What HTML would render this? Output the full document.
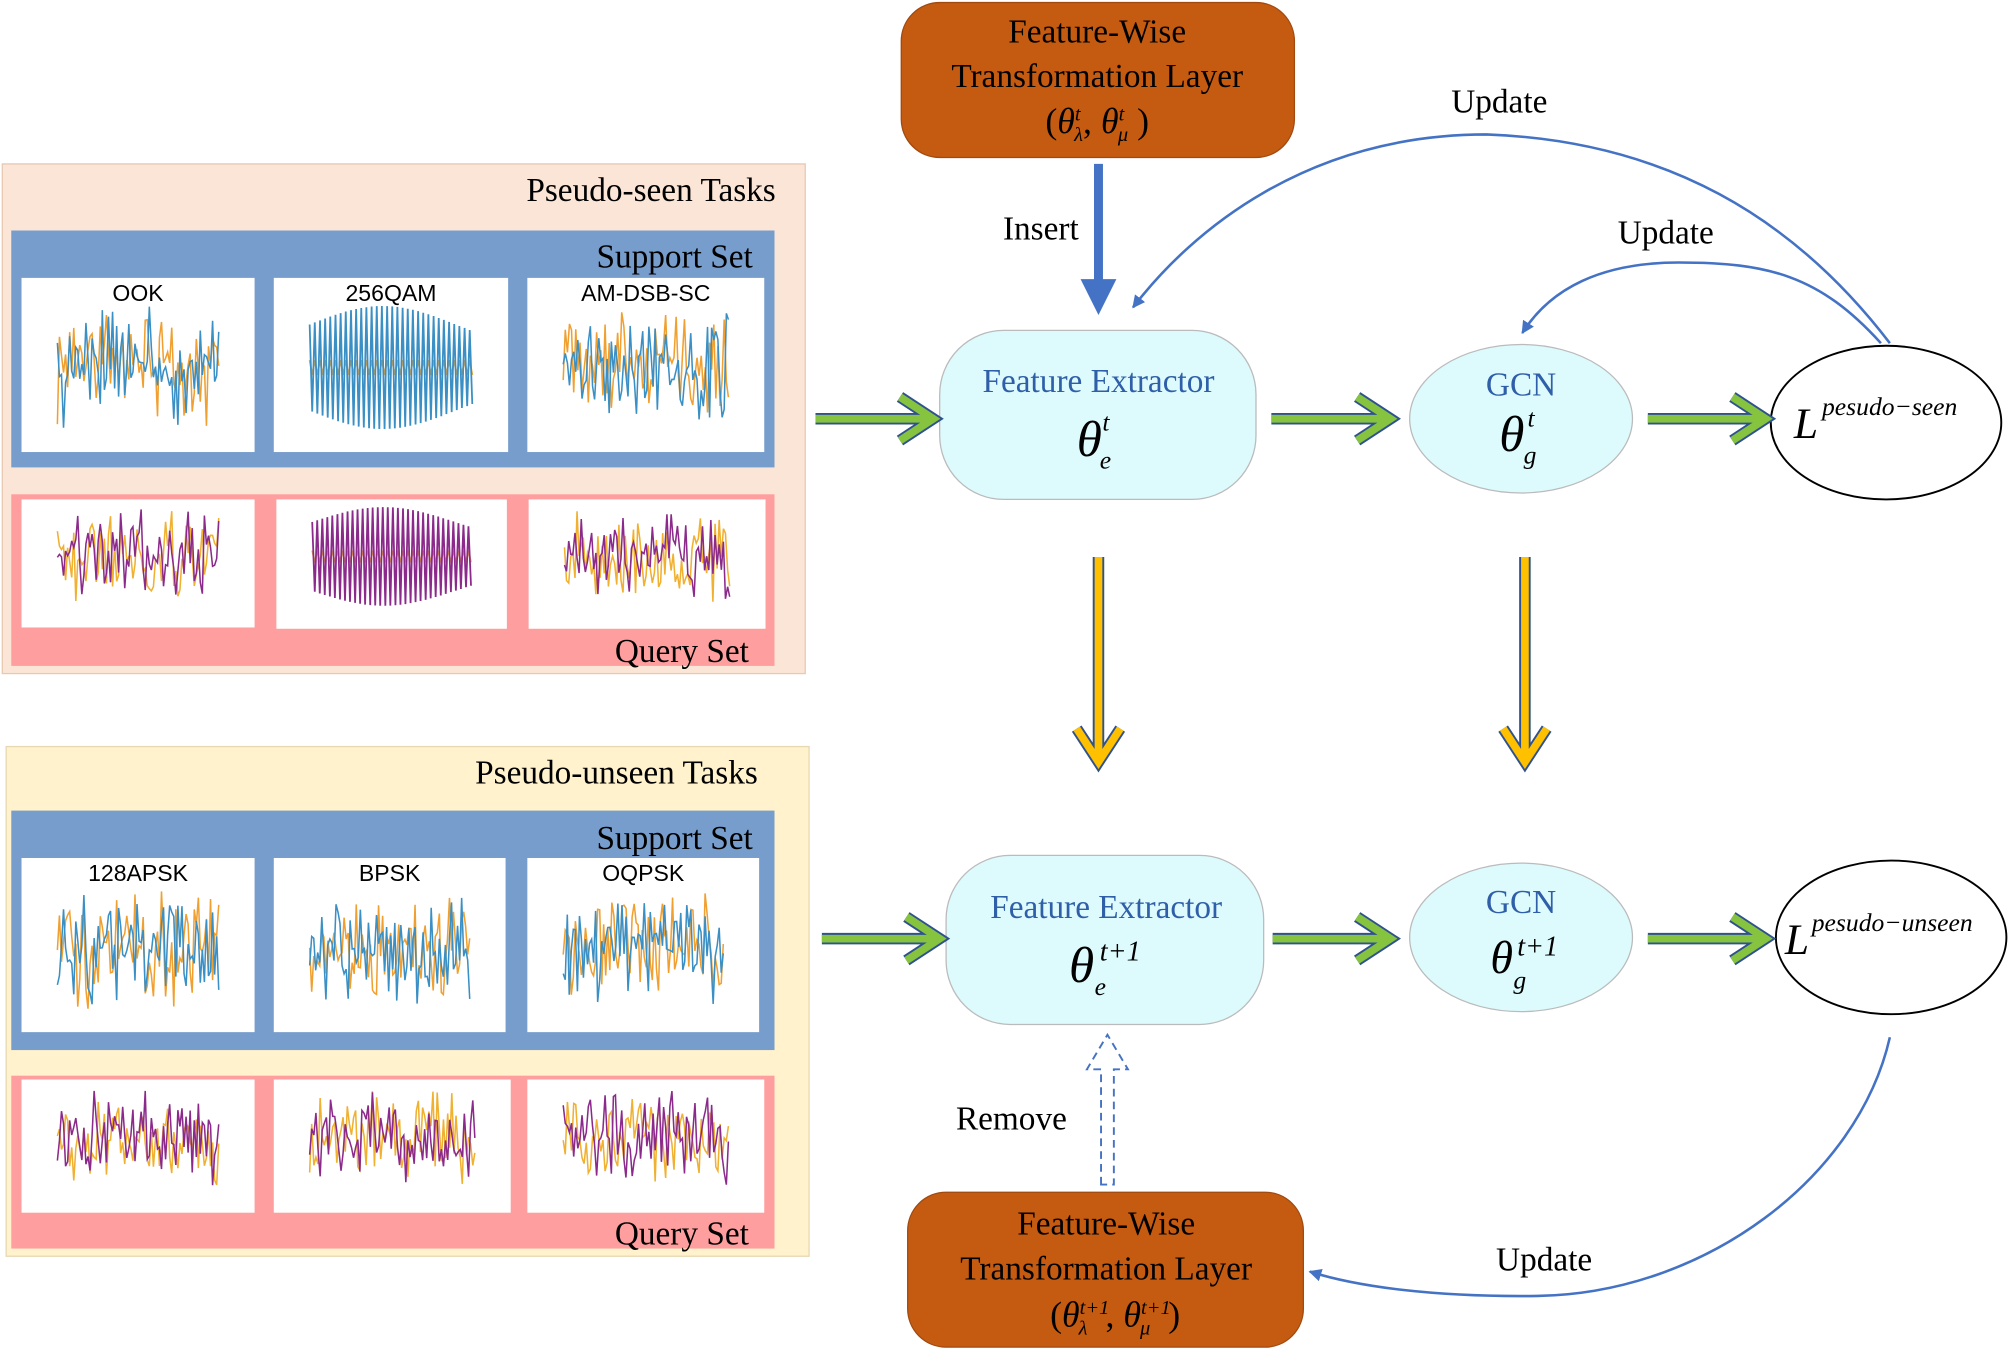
<!DOCTYPE html>
<html><head><meta charset="utf-8"><style>
html,body{margin:0;padding:0;background:#fff;}
svg{display:block;}
text{font-family:"Liberation Serif",serif;}
.m{font-family:"Liberation Sans",sans-serif;font-size:18px;}
</style></head><body>
<svg id="s" width="2010" height="1351" viewBox="0 0 1568 1055" xmlns="http://www.w3.org/2000/svg">
<defs>
<marker id="ah" markerWidth="12" markerHeight="12" refX="9" refY="5" orient="auto" markerUnits="userSpaceOnUse"><path d="M0,0 L10,5 L0,10 Z" fill="#4472c4"/></marker>
</defs>
<rect x="1" y="128" width="627" height="398" fill="#fbe5d6" stroke="#e8c8b0"/>
<text x="605" y="157" font-size="26" text-anchor="end">Pseudo-seen Tasks</text>
<rect x="8" y="180" width="596" height="185" fill="#769dcc"/>
<text x="587" y="209" font-size="26" text-anchor="end">Support Set</text>
<rect x="8" y="386" width="596" height="134" fill="#ff9e9e"/>
<text x="584" y="517" font-size="26" text-anchor="end">Query Set</text>

<rect x="4" y="583" width="627" height="398" fill="#fff2cc" stroke="#e6d8b0"/>
<text x="591" y="612" font-size="26" text-anchor="end">Pseudo-unseen Tasks</text>
<rect x="8" y="633" width="596" height="187" fill="#769dcc"/>
<text x="587" y="663" font-size="26" text-anchor="end">Support Set</text>
<rect x="8" y="840" width="596" height="135" fill="#ff9e9e"/>
<text x="584" y="972" font-size="26" text-anchor="end">Query Set</text>

<g id="cards"></g>

<rect x="703" y="2" width="307" height="121" rx="30" fill="#c55a11" stroke="#a04a10"/>
<text x="856" y="33" font-size="26" text-anchor="middle">Feature-Wise</text>
<text x="856" y="68" font-size="26" text-anchor="middle">Transformation Layer</text>
<text x="856" y="104" font-size="28" text-anchor="middle">(<tspan font-style="italic">θ</tspan><tspan font-size="16" dy="-10" font-style="italic">t</tspan><tspan font-size="16" dx="-5" dy="16" font-style="italic">λ</tspan><tspan dy="-6">, </tspan><tspan font-style="italic">θ</tspan><tspan font-size="16" dy="-10" font-style="italic">t</tspan><tspan font-size="16" dx="-5" dy="16" font-style="italic">μ</tspan><tspan dy="-6"> )</tspan></text>

<rect x="708" y="931" width="309" height="121" rx="30" fill="#c55a11" stroke="#a04a10"/>
<text x="863" y="964" font-size="26" text-anchor="middle">Feature-Wise</text>
<text x="863" y="999" font-size="26" text-anchor="middle">Transformation Layer</text>
<text x="870" y="1036" font-size="28" text-anchor="middle">(<tspan font-style="italic">θ</tspan><tspan font-size="16" dy="-10" font-style="italic">t+1</tspan><tspan font-size="16" dx="-24" dy="16" font-style="italic">λ</tspan><tspan dx="14" dy="-6">, </tspan><tspan font-style="italic">θ</tspan><tspan font-size="16" dy="-10" font-style="italic">t+1</tspan><tspan font-size="16" dx="-24" dy="16" font-style="italic">μ</tspan><tspan dx="14" dy="-6">)</tspan></text>

<rect x="733" y="258" width="247" height="132" rx="50" fill="#ddfafd" stroke="#bbbbbb"/>
<text x="857" y="306" font-size="26" fill="#2f5fa8" text-anchor="middle">Feature Extractor</text>
<text x="840" y="356" font-size="40" font-style="italic">θ</text><text x="860" y="336" font-size="20" font-style="italic">t</text><text x="858" y="366" font-size="20" font-style="italic">e</text>

<rect x="738" y="668" width="248" height="132" rx="50" fill="#ddfafd" stroke="#bbbbbb"/>
<text x="863" y="717" font-size="26" fill="#2f5fa8" text-anchor="middle">Feature Extractor</text>
<text x="834" y="767" font-size="40" font-style="italic">θ</text><text x="858" y="750" font-size="22" font-style="italic">t+1</text><text x="854" y="777" font-size="20" font-style="italic">e</text>

<ellipse cx="1187" cy="327" rx="87" ry="58" fill="#ddfafd" stroke="#bbbbbb"/>
<text x="1187" y="309" font-size="26" fill="#2f5fa8" text-anchor="middle">GCN</text>
<text x="1170" y="352" font-size="40" font-style="italic">θ</text><text x="1192" y="333" font-size="20" font-style="italic">t</text><text x="1189" y="362" font-size="20" font-style="italic">g</text>

<ellipse cx="1187" cy="732" rx="87" ry="58" fill="#ddfafd" stroke="#bbbbbb"/>
<text x="1187" y="713" font-size="26" fill="#2f5fa8" text-anchor="middle">GCN</text>
<text x="1163" y="760" font-size="36" font-style="italic">θ</text><text x="1184" y="746" font-size="22" font-style="italic">t+1</text><text x="1181" y="772" font-size="20" font-style="italic">g</text>

<ellipse cx="1472" cy="330" rx="90" ry="60" fill="#fff" stroke="#000" stroke-width="1.5"/>
<text x="1400" y="342" font-size="34" font-style="italic">L</text><text x="1422" y="324" font-size="20" font-style="italic">pesudo−seen</text>
<ellipse cx="1476" cy="732" rx="90" ry="60" fill="#fff" stroke="#000" stroke-width="1.5"/>
<text x="1393" y="745" font-size="34" font-style="italic">L</text><text x="1414" y="727" font-size="20" font-style="italic">pesudo−unseen</text>

<g id="ga" fill="none" stroke-linecap="butt" stroke-linejoin="miter"></g>

<line x1="857" y1="128" x2="857" y2="225" stroke="#4472c4" stroke-width="7"/>
<path d="M843,218 L857,246 L871,218 Z" fill="#4472c4"/>
<text x="812" y="187" font-size="26" text-anchor="middle">Insert</text>

<path d="M1475,268 C1400,170 1300,110 1160,105 C1020,105 930,180 884,240" fill="none" stroke="#4472c4" stroke-width="2" marker-end="url(#ah)"/>
<text x="1170" y="88" font-size="26" text-anchor="middle">Update</text>
<path d="M1468,268 C1420,215 1380,205 1310,205 C1250,205 1210,225 1188,260" fill="none" stroke="#4472c4" stroke-width="2" marker-end="url(#ah)"/>
<text x="1300" y="190" font-size="26" text-anchor="middle">Update</text>
<path d="M1475,810 C1450,920 1330,1010 1200,1012 C1120,1013 1060,1005 1022,993" fill="none" stroke="#4472c4" stroke-width="2" marker-end="url(#ah)"/>
<text x="1205" y="992" font-size="26" text-anchor="middle">Update</text>

<path d="M859,925 L859,835 L848,835 L864,808 L880,835 L869,835 L869,925 Z" fill="none" stroke="#4472c4" stroke-width="1.5" stroke-dasharray="6,4"/>
<text x="789" y="882" font-size="26" text-anchor="middle">Remove</text>
</svg>
<script>
var NS="http://www.w3.org/2000/svg";
function el(p,t,a){var e=document.createElementNS(NS,t);for(var k in a)e.setAttribute(k,a[k]);p.appendChild(e);return e;}
var seed=7;function r(){seed=(seed*16807)%2147483647;return seed/2147483647;}
var g=document.getElementById("cards");
function wave(x,y,w,h,c1,c2,kind){
 [c2,c1].forEach(function(c,ci){
  var pts=[],n=kind==1?64:80;
  for(var i=0;i<n;i++){var px=x+i*w/(n-1);var a;
   if(kind==1){a=(i%2?1:-1)*(ci==1?(0.7+0.3*Math.sin(i/18)):0.12);}
   else a=(r()*2-1)*(i%2?1:-1)*0.5+(r()*2-1)*0.5;
   pts.push(px.toFixed(1)+","+(y+h/2+a*h/2).toFixed(1));}
  el(g,"polyline",{points:pts.join(" "),fill:"none",stroke:c,"stroke-width":kind==1?1.4:1.2});
 });
}
function card(x,y,w,h,lab,c1,c2,kind){
 el(g,"rect",{x:x,y:y,width:w,height:h,fill:"#fff"});
 if(lab){var t=el(g,"text",{x:x+w/2,y:y+18,"text-anchor":"middle","class":"m"});t.textContent=lab;}
 var top=lab?y+22:y+6;
 wave(x+28,top,w-56,h-(top-y)-18,c1,c2,kind);
}
var B="#3a8fc4",O="#f0a030",P="#8b2a8b",Y="#f0b030";
card(16,217,182,136,"OOK",B,O,0);card(213,217,183,136,"256QAM",B,O,1);card(411,217,185,136,"AM-DSB-SC",B,O,0);
card(16,390,182,100,"",P,Y,0);card(215,390,180,101,"",P,Y,1);card(412,390,185,101,"",P,Y,0);
card(16,670,182,136,"128APSK",B,O,0);card(213,670,181,136,"BPSK",B,O,0);card(411,670,181,136,"OQPSK",B,O,0);
card(16,843,182,104,"",P,Y,0);card(213,843,185,104,"",P,Y,0);card(411,843,185,104,"",P,Y,0);
var ga=document.getElementById("ga");
function arrow(x1,y1,x2,y2,col){
 var dx=x2-x1,dy=y2-y1,L=Math.sqrt(dx*dx+dy*dy),ux=dx/L,uy=dy/L,px=-uy,py=ux;
 var bx=x2-ux*26,by=y2-uy*26;
 var d="M"+x1+","+y1+" L"+(x2-ux*3)+","+(y2-uy*3)+
   " M"+(bx+px*17)+","+(by+py*17)+" L"+x2+","+y2+" L"+(bx-px*17)+","+(by-py*17);
 el(ga,"path",{d:d,stroke:"#2f528f","stroke-width":9});
 el(ga,"path",{d:d,stroke:col,"stroke-width":6});
}
var GR="#86c440",YE="#ffc000";
arrow(636,327,728,327,GR);arrow(992,327,1085,327,GR);arrow(1286,327,1378,327,GR);
arrow(641,733,733,733,GR);arrow(993,733,1085,733,GR);arrow(1286,733,1378,733,GR);
arrow(857,435,857,595,YE);arrow(1190,435,1190,595,YE);
</script>
</body></html>
